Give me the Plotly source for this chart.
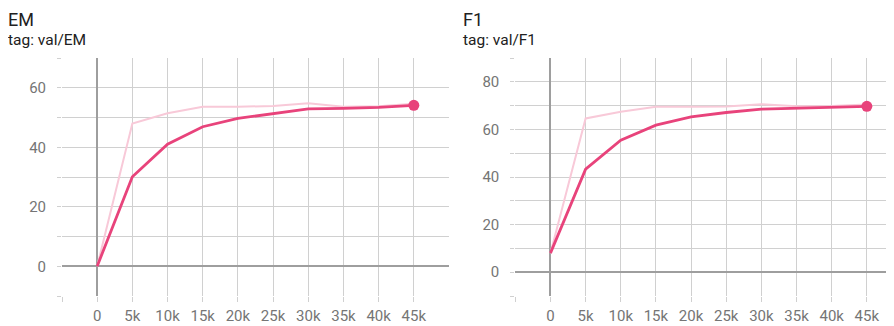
import plotly.graph_objects as go

steps = [0, 5000, 10000, 15000, 20000, 25000, 30000, 35000, 40000, 45000]
em_raw = [0, 48.0, 51.4, 53.6, 53.6, 53.9, 54.8, 53.6, 53.8, 54.6]
em_smooth = [0, 30.1, 41.0, 46.9, 49.7, 51.4, 52.9, 53.1, 53.4, 54.1]
f1_raw = [8.0, 64.6, 67.4, 69.5, 69.5, 69.6, 70.6, 69.7, 69.8, 70.5]
f1_smooth = [8.0, 43.3, 55.5, 61.8, 65.3, 67.1, 68.5, 68.9, 69.3, 69.7]

x_tickvals = [-5000, 0, 5000, 10000, 15000, 20000, 25000, 30000, 35000, 40000, 45000]
x_ticktext = ["", "0", "5k", "10k", "15k", "20k", "25k", "30k", "35k", "40k", "45k"]
em_yticks = [-10, 0, 10, 20, 30, 40, 50, 60, 70]
em_ytext = ["", "0", "", "20", "", "40", "", "60", ""]
f1_yticks = [-10, 0, 10, 20, 30, 40, 50, 60, 70, 80, 90]
f1_ytext = ["", "0", "", "20", "", "40", "", "60", "", "80", ""]

DARK = "#e8437b"
LIGHT = "#f8c9d8"
GRID = "#d0d0d0"
ZERO = "#9e9e9e"
FONT = "Roboto"

W, H = 894, 326
OFF = 8  # page body margin offset


def px(xp):
    return (xp - OFF) / W


def py(yp):
    return 1 - (yp - OFF) / H


fig = go.Figure()


def add_panel(raw, smooth, xa, ya):
    fig.add_trace(go.Scatter(x=steps, y=raw, mode="lines", line=dict(color=LIGHT, width=2),
                             xaxis=xa, yaxis=ya, hoverinfo="skip", showlegend=False))
    fig.add_trace(go.Scatter(x=steps, y=smooth, mode="lines", line=dict(color=DARK, width=2.8),
                             xaxis=xa, yaxis=ya, showlegend=False))
    fig.add_trace(go.Scatter(x=[steps[-1]], y=[smooth[-1]], mode="markers",
                             marker=dict(color=DARK, size=11), xaxis=xa, yaxis=ya, showlegend=False))


add_panel(em_raw, em_smooth, "x", "y")
add_panel(f1_raw, f1_smooth, "x2", "y2")

common_x = dict(tickvals=x_tickvals, ticktext=x_ticktext, showgrid=True, gridcolor=GRID, gridwidth=1,
                zeroline=True, zerolinecolor=ZERO, zerolinewidth=2, ticks="outside", ticklen=5,
                tickcolor=GRID, showline=False, tickfont=dict(family=FONT, size=15, color="#757575"),
                ticklabelstandoff=1)
common_y = dict(showgrid=True, gridcolor=GRID, gridwidth=1, zeroline=True, zerolinecolor=ZERO,
                zerolinewidth=2, ticks="outside", ticklen=4, tickcolor=GRID, showline=False,
                tickfont=dict(family=FONT, size=15, color="#757575"), ticklabelstandoff=8)

ybot = py(296)
ytop = py(58)


def title_ann(text, xp, yval, size, anchor):
    return dict(text=text, x=px(xp), y=yval, xref="paper", yref="paper", xanchor="left",
                yanchor=anchor, showarrow=False, borderpad=0,
                font=dict(family=FONT, size=size, color="#212121"))


fig.update_layout(
    width=W, height=H, margin=dict(l=0, r=0, t=0, b=0),
    paper_bgcolor="white", plot_bgcolor="white",
    xaxis=dict(domain=[px(62), px(449)], range=[-5000, 50000], anchor="y", **common_x),
    yaxis=dict(domain=[ybot, ytop], range=[-10, 70], tickvals=em_yticks, ticktext=em_ytext,
               anchor="x", **common_y),
    xaxis2=dict(domain=[px(515.3), px(902)], range=[-5000, 50000], anchor="y2", **common_x),
    yaxis2=dict(domain=[ybot, ytop], range=[-10, 90], tickvals=f1_yticks, ticktext=f1_ytext,
                anchor="x2", **common_y),
    annotations=[
        title_ann("EM", 7, 1.0, 18, "top"),
        title_ann("tag: val/EM", 7, py(30), 15.5, "top"),
        title_ann("F1", 462, 1.0, 18, "top"),
        title_ann("tag: val/F1", 462, py(30), 15.5, "top"),
    ],
)

fig.write_html("out.html")
